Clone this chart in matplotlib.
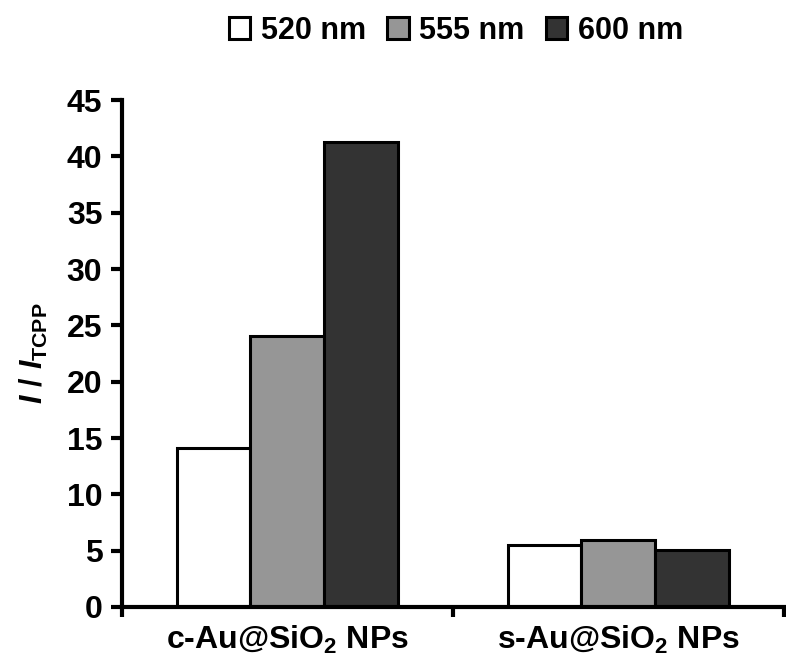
import numpy as np
import matplotlib
matplotlib.use("Agg")
import matplotlib.pyplot as plt

plt.rcParams['font.family'] = ['Liberation Sans', 'DejaVu Sans']
plt.rcParams['font.weight'] = 'bold'
plt.rcParams['mathtext.fontset'] = 'custom'
plt.rcParams['mathtext.rm'] = 'Liberation Sans:bold'
plt.rcParams['mathtext.it'] = 'Liberation Sans:italic:bold'
plt.rcParams['mathtext.bf'] = 'Liberation Sans:bold'

# data
categories = ['c-Au@SiO$_2$ NPs', 's-Au@SiO$_2$ NPs']
series_names = ['520 nm', '555 nm', '600 nm']
vals_520 = [14.1, 5.5]
vals_555 = [24.1, 5.9]
vals_600 = [41.3, 5.1]
colors = ['white', '#969696', '#333333']

fig = plt.figure(figsize=(7.86, 6.59), dpi=100)
ax = fig.add_axes([0.155, 0.079, 0.842, 0.769])

x = np.arange(len(categories))
w = 0.223
for i, (vals, name) in enumerate(zip([vals_520, vals_555, vals_600], series_names)):
    ax.bar(x + (i - 1) * w, vals, width=w, color=colors[i], edgecolor='black',
           linewidth=2.2, label=name)

ax.set_xlim(-0.5, 1.5)
ax.set_ylim(0, 45)
ax.set_yticks(range(0, 46, 5))
ax.set_xticks(x)
ax.set_xticklabels(categories, fontsize=23, fontweight='bold')
ax.set_xticks([-0.5, 0.5, 1.5], minor=True)
ax.tick_params(axis='x', which='major', length=0, pad=12)
ax.tick_params(axis='x', which='minor', length=7, width=3, direction='out')
ax.tick_params(axis='y', length=8, width=3, direction='out', labelsize=23, pad=6)
for lab in ax.get_yticklabels():
    lab.set_fontweight('bold')

for s in ['top', 'right']:
    ax.spines[s].set_visible(False)
for s in ['left', 'bottom']:
    ax.spines[s].set_linewidth(3)

ax.set_ylabel(r'$I\ /\ I_{\mathrm{TCPP}}$', fontsize=22, labelpad=12)

fig.legend(loc='upper center', bbox_to_anchor=(0.58, 1.018), ncol=3, frameon=False,
           prop={'size': 22, 'weight': 'bold'}, handlelength=0.7, handleheight=0.7,
           handletextpad=0.35, columnspacing=0.7)

fig.savefig('out.png', dpi=100)
